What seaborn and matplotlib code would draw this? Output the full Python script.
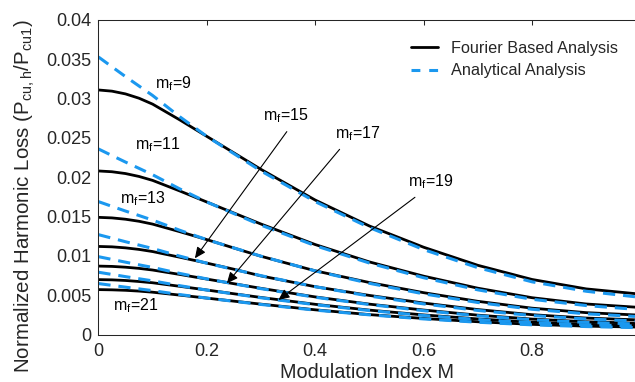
import matplotlib
matplotlib.use("Agg")
import matplotlib.pyplot as plt
import seaborn as sns
import pandas as pd
from matplotlib.lines import Line2D

# Modulation index samples
M = [0, 0.025, 0.05, 0.075, 0.1, 0.15, 0.2, 0.25, 0.3, 0.4, 0.5, 0.6, 0.7, 0.8, 0.9, 0.99]
mf_values = [9, 11, 13, 15, 17, 19, 21]

# Normalized harmonic copper loss, Fourier based analysis
fourier_mf9 = [0.03110, 0.03095, 0.03060, 0.03005, 0.02930, 0.02730, 0.02520, 0.02310, 0.02100, 0.01710, 0.01380, 0.01110, 0.00880, 0.00700, 0.00580, 0.00520]
fourier_mf11 = [0.02080, 0.02070, 0.02047, 0.02010, 0.01960, 0.01826, 0.01685, 0.01545, 0.01405, 0.01144, 0.00923, 0.00742, 0.00589, 0.00468, 0.00388, 0.00348]
fourier_mf13 = [0.01490, 0.01483, 0.01466, 0.01440, 0.01404, 0.01308, 0.01207, 0.01100, 0.00995, 0.00810, 0.00661, 0.00532, 0.00422, 0.00335, 0.00278, 0.00249]
fourier_mf15 = [0.01120, 0.01115, 0.01102, 0.01082, 0.01055, 0.00983, 0.00908, 0.00830, 0.00745, 0.00608, 0.00497, 0.00400, 0.00317, 0.00252, 0.00209, 0.00187]
fourier_mf17 = [0.00870, 0.00866, 0.00856, 0.00841, 0.00820, 0.00764, 0.00705, 0.00646, 0.00587, 0.00478, 0.00386, 0.00311, 0.00246, 0.00196, 0.00162, 0.00145]
fourier_mf19 = [0.00698, 0.00695, 0.00687, 0.00674, 0.00658, 0.00613, 0.00566, 0.00518, 0.00471, 0.00384, 0.00310, 0.00249, 0.00198, 0.00157, 0.00130, 0.00117]
fourier_mf21 = [0.00571, 0.00568, 0.00562, 0.00552, 0.00538, 0.00501, 0.00463, 0.00424, 0.00386, 0.00314, 0.00253, 0.00204, 0.00162, 0.00129, 0.00106, 0.00095]

# Normalized harmonic copper loss, analytical expression
analytic_mf9 = [0.03530, 0.03405, 0.03280, 0.03160, 0.03040, 0.02770, 0.02520, 0.02300, 0.02080, 0.01690, 0.01360, 0.01080, 0.00850, 0.00670, 0.00550, 0.00480]
analytic_mf11 = [0.02360, 0.02276, 0.02193, 0.02113, 0.02032, 0.01852, 0.01685, 0.01538, 0.01391, 0.01130, 0.00909, 0.00722, 0.00568, 0.00448, 0.00368, 0.00321]
analytic_mf13 = [0.01690, 0.01630, 0.01570, 0.01513, 0.01455, 0.01326, 0.01206, 0.01101, 0.00996, 0.00809, 0.00651, 0.00517, 0.00407, 0.00321, 0.00263, 0.00230]
analytic_mf15 = [0.01270, 0.01225, 0.01180, 0.01137, 0.01094, 0.00997, 0.00907, 0.00827, 0.00748, 0.00608, 0.00489, 0.00389, 0.00306, 0.00241, 0.00198, 0.00173]
analytic_mf17 = [0.00990, 0.00955, 0.00920, 0.00886, 0.00853, 0.00777, 0.00707, 0.00645, 0.00583, 0.00474, 0.00381, 0.00303, 0.00238, 0.00188, 0.00154, 0.00135]
analytic_mf19 = [0.00792, 0.00764, 0.00736, 0.00709, 0.00682, 0.00621, 0.00565, 0.00516, 0.00467, 0.00379, 0.00305, 0.00242, 0.00191, 0.00150, 0.00123, 0.00108]
analytic_mf21 = [0.00648, 0.00625, 0.00602, 0.00580, 0.00558, 0.00508, 0.00463, 0.00422, 0.00382, 0.00310, 0.00250, 0.00198, 0.00156, 0.00123, 0.00101, 0.00088]

fourier_series = [fourier_mf9, fourier_mf11, fourier_mf13, fourier_mf15,
                  fourier_mf17, fourier_mf19, fourier_mf21]
analytic_series = [analytic_mf9, analytic_mf11, analytic_mf13, analytic_mf15,
                   analytic_mf17, analytic_mf19, analytic_mf21]

x_ticks = [0, 0.2, 0.4, 0.6, 0.8]
x_tick_labels = ["0", "0.2", "0.4", "0.6", "0.8"]
y_ticks = [0, 0.005, 0.01, 0.015, 0.02, 0.025, 0.03, 0.035, 0.04]
y_tick_labels = ["0", "0.005", "0.01", "0.015", "0.02", "0.025", "0.03", "0.035", "0.04"]

legend_labels = ["Fourier Based Analysis", "Analytical Analysis"]

# Curve labels (text position) and arrows (tail -> head) in data units
label_pos = {9: (0.104, 0.0313), 11: (0.068, 0.0235), 13: (0.040, 0.0167),
             21: (0.027, 0.0031), 15: (0.303, 0.0273), 17: (0.437, 0.0250),
             19: (0.571, 0.0188)}
arrows = {15: ((0.3476, 0.0258), (0.178, 0.00969)),
          17: ((0.445, 0.02355), (0.237, 0.00651)),
          19: ((0.584, 0.01745), (0.332, 0.00439))}

rows = []
for mf, fs, an in zip(mf_values, fourier_series, analytic_series):
    for m, f, a in zip(M, fs, an):
        rows.append({"M": m, "mf": mf, "method": "Fourier", "loss": f})
        rows.append({"M": m, "mf": mf, "method": "Analytical", "loss": a})
df = pd.DataFrame(rows)

sns.set_theme(style="white")
plt.rcParams["font.family"] = ["Liberation Sans", "DejaVu Sans"]
plt.rcParams["mathtext.default"] = "regular"

BLUE = "#1b98ef"
TXT = "#262626"

fig = plt.figure(figsize=(6.35, 3.82), dpi=100)
ax = fig.add_axes([98.4 / 635, 47.5 / 382, 1 - 98.4 / 635, (334.5 - 20) / 382])

for mf in mf_values:
    sub = df[(df.mf == mf) & (df.method == "Fourier")]
    sns.lineplot(data=sub, x="M", y="loss", color="black", lw=2.0, ax=ax,
                 legend=False, estimator=None)
dash = (0, (4.0, 2.6))
for mf in mf_values:
    sub = df[(df.mf == mf) & (df.method == "Analytical")]
    sns.lineplot(data=sub, x="M", y="loss", color=BLUE, lw=2.2, ax=ax,
                 legend=False, estimator=None, linestyle=dash)

ax.set_xlim(0, 0.99)
ax.set_ylim(0, 0.04)
ax.set_xticks(x_ticks)
ax.set_xticklabels(x_tick_labels)
ax.set_yticks(y_ticks)
ax.set_yticklabels(y_tick_labels)
ax.tick_params(direction="in", length=3.5, width=0.75, top=True, right=False,
               labelsize=13, colors=TXT, pad=5)
ax.tick_params(axis="x", pad=6)
for side in ["left", "bottom", "top"]:
    ax.spines[side].set_visible(True)
    ax.spines[side].set_color(TXT)
    ax.spines[side].set_linewidth(0.75)
ax.spines["right"].set_visible(False)

ax.set_xlabel("Modulation Index M", fontsize=14.3, color=TXT, labelpad=2.5)
ax.set_ylabel(r"Normalized Harmonic Loss (P$_{cu,h}$/P$_{cu1}$)",
              fontsize=14.8, color=TXT)
ax.yaxis.set_label_coords(-0.114, 0.44)

for mf, (x, y) in label_pos.items():
    ax.text(x, y, "m$_{f}$=%d" % mf, fontsize=11.5, color="black",
            va="baseline", ha="left")
for mf, (tail, head) in arrows.items():
    ax.annotate("", xy=head, xytext=tail,
                arrowprops=dict(arrowstyle="-|>,head_length=0.55,head_width=0.25",
                                color="black", lw=0.8, mutation_scale=12,
                                shrinkA=0, shrinkB=0))

handles = [Line2D([], [], color="black", lw=2.0),
           Line2D([], [], color=BLUE, lw=2.2, linestyle=(0, (2.9, 2.9)))]
ax.legend(handles, legend_labels, loc="upper left", frameon=False,
          fontsize=11.7, bbox_to_anchor=(410.7 / 635, 1 - 41 / 382),
          bbox_transform=fig.transFigure, borderpad=0, borderaxespad=0,
          handlelength=1.7, handletextpad=0.75, labelspacing=0.45)

fig.savefig("out.png", dpi=100)
